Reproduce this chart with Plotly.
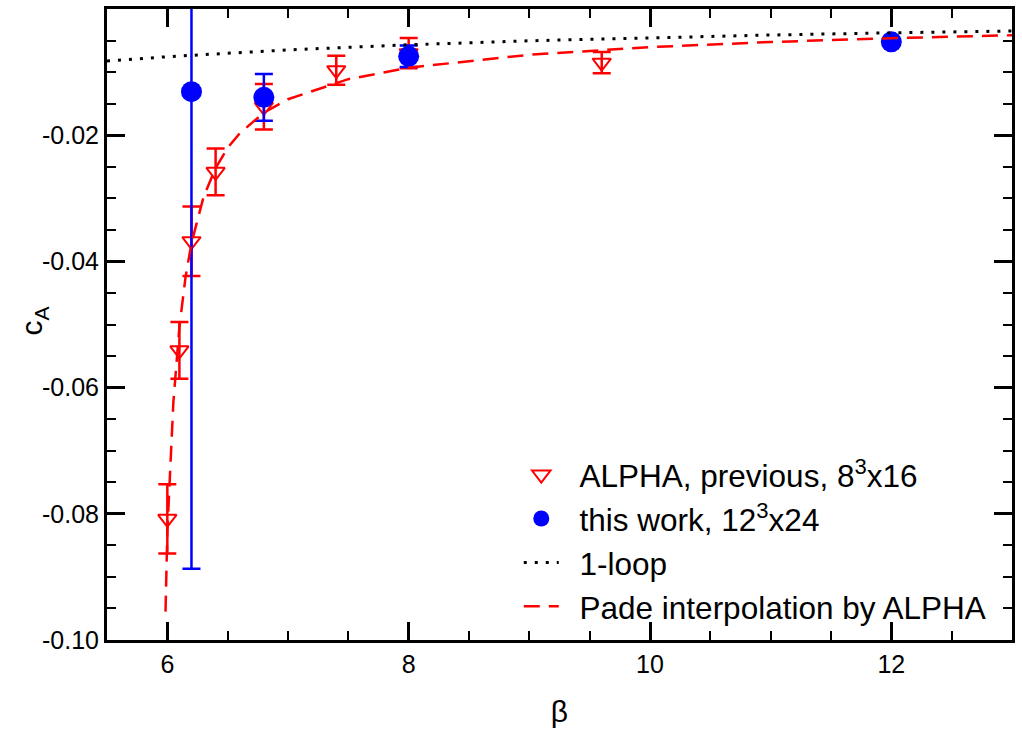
import plotly.graph_objects as go

# ALPHA, previous, 8^3x16
alpha_beta = [6.0, 6.1, 6.2, 6.4, 6.8, 7.4, 8.0, 9.6]
alpha_ca = [-0.0808, -0.0541, -0.0368, -0.0258, -0.0155, -0.0097, -0.0070, -0.0085]
alpha_err = [0.0055, 0.0045, 0.0055, 0.0037, 0.0036, 0.0023, 0.0024, 0.0017]

# this work, 12^3x24
work_beta = [6.2, 6.8, 8.0, 12.0]
work_ca = [-0.0131, -0.0140, -0.0075, -0.0052]
work_err = [0.0756, 0.0037, 0.0017, 0.0005]

# 1-loop
loop_beta = [5.5, 6.0, 7.0, 8.0, 9.0, 10.0, 11.0, 12.0, 13.0]
loop_ca = [-0.00825, -0.00756, -0.00648, -0.00567, -0.00504, -0.00454, -0.00412, -0.00378, -0.00349]

# Pade interpolation by ALPHA
pade_beta = [5.985, 6.0, 6.05, 6.1, 6.15, 6.2, 6.3, 6.4, 6.5, 6.6, 6.8, 7.0, 7.5, 8.0, 9.0, 10.0, 11.0, 12.0, 13.0]
pade_ca = [-0.0955, -0.0828, -0.0623, -0.0504, -0.0426, -0.0371, -0.0298, -0.0252, -0.0220, -0.0197,
           -0.01644, -0.0143, -0.01112, -0.0093, -0.00725, -0.00604, -0.00523, -0.00463, -0.00416]

x_tickvals = [6, 8, 10, 12]
x_ticktext = ["6", "8", "10", "12"]
y_tickvals = [-0.10, -0.08, -0.06, -0.04, -0.02]
y_ticktext = ["-0.10", "-0.08", "-0.06", "-0.04", "-0.02"]

RED = "#ff0000"
BLUE = "#0000ff"
FONT = "Liberation Sans, Arial, sans-serif"
GAP = "\u2002"

fig = go.Figure()

fig.add_trace(go.Scatter(
    x=alpha_beta, y=alpha_ca, mode="markers",
    name=GAP + "ALPHA, previous, 8<sup>3</sup>x16",
    marker=dict(symbol="triangle-down-open", size=16, color=RED, line=dict(width=2, color=RED)),
    error_y=dict(type="data", array=alpha_err, visible=True, color=RED, thickness=2.5, width=9),
))
fig.add_trace(go.Scatter(
    x=work_beta, y=work_ca, mode="markers",
    name=GAP + "this work, 12<sup>3</sup>x24",
    marker=dict(symbol="circle", size=21, color=BLUE),
    error_y=dict(type="data", array=work_err, visible=True, color=BLUE, thickness=2.5, width=9),
))
fig.add_trace(go.Scatter(
    x=loop_beta, y=loop_ca, mode="lines", name=GAP + "1-loop",
    line=dict(color="black", width=3, dash="3px,8px"),
))
fig.add_trace(go.Scatter(
    x=pade_beta, y=pade_ca, mode="lines", name=GAP + "Pade interpolation by ALPHA",
    line=dict(color=RED, width=2.5, dash="16px,9px"),
))

axis_common = dict(
    showline=True, linecolor="black", linewidth=3, mirror="ticks",
    ticks="inside", tickcolor="black", tickwidth=2.5, ticklen=18,
    showgrid=False, zeroline=False,
    tickfont=dict(family=FONT, size=25, color="black"),
)

fig.update_layout(
    width=1022, height=731,
    margin=dict(l=107, r=10, t=6, b=91),
    paper_bgcolor="white", plot_bgcolor="white",
    font=dict(family=FONT, color="black"),
    showlegend=True,
    legend=dict(
        x=0.455, y=0.305, xanchor="left", yanchor="top",
        bgcolor="rgba(0,0,0,0)", borderwidth=0,
        font=dict(family=FONT, size=31.5, color="black"),
        itemwidth=35, tracegroupgap=0,
    ),
    xaxis=dict(
        range=[5.5, 13.0], tickmode="array", tickvals=x_tickvals, ticktext=x_ticktext,
        minor=dict(dtick=0.5, tick0=6, ticks="inside", ticklen=9, tickwidth=2, tickcolor="black"),
        title=dict(text="β", font=dict(family=FONT, size=30, color="black"), standoff=24),
        **axis_common,
    ),
    yaxis=dict(
        range=[-0.10, 0.0], tickmode="array", tickvals=y_tickvals, ticktext=y_ticktext,
        minor=dict(dtick=0.005, tick0=0, ticks="inside", ticklen=9, tickwidth=2, tickcolor="black"),
        **axis_common,
    ),
    annotations=[dict(
        text="c<sub>A</sub>", textangle=-90, xref="paper", yref="paper",
        x=(34 - 107) / 905, y=(640 - 320) / 634, xanchor="center", yanchor="middle",
        showarrow=False, font=dict(family=FONT, size=30, color="black"),
    )],
)

fig.write_html("out.html")
